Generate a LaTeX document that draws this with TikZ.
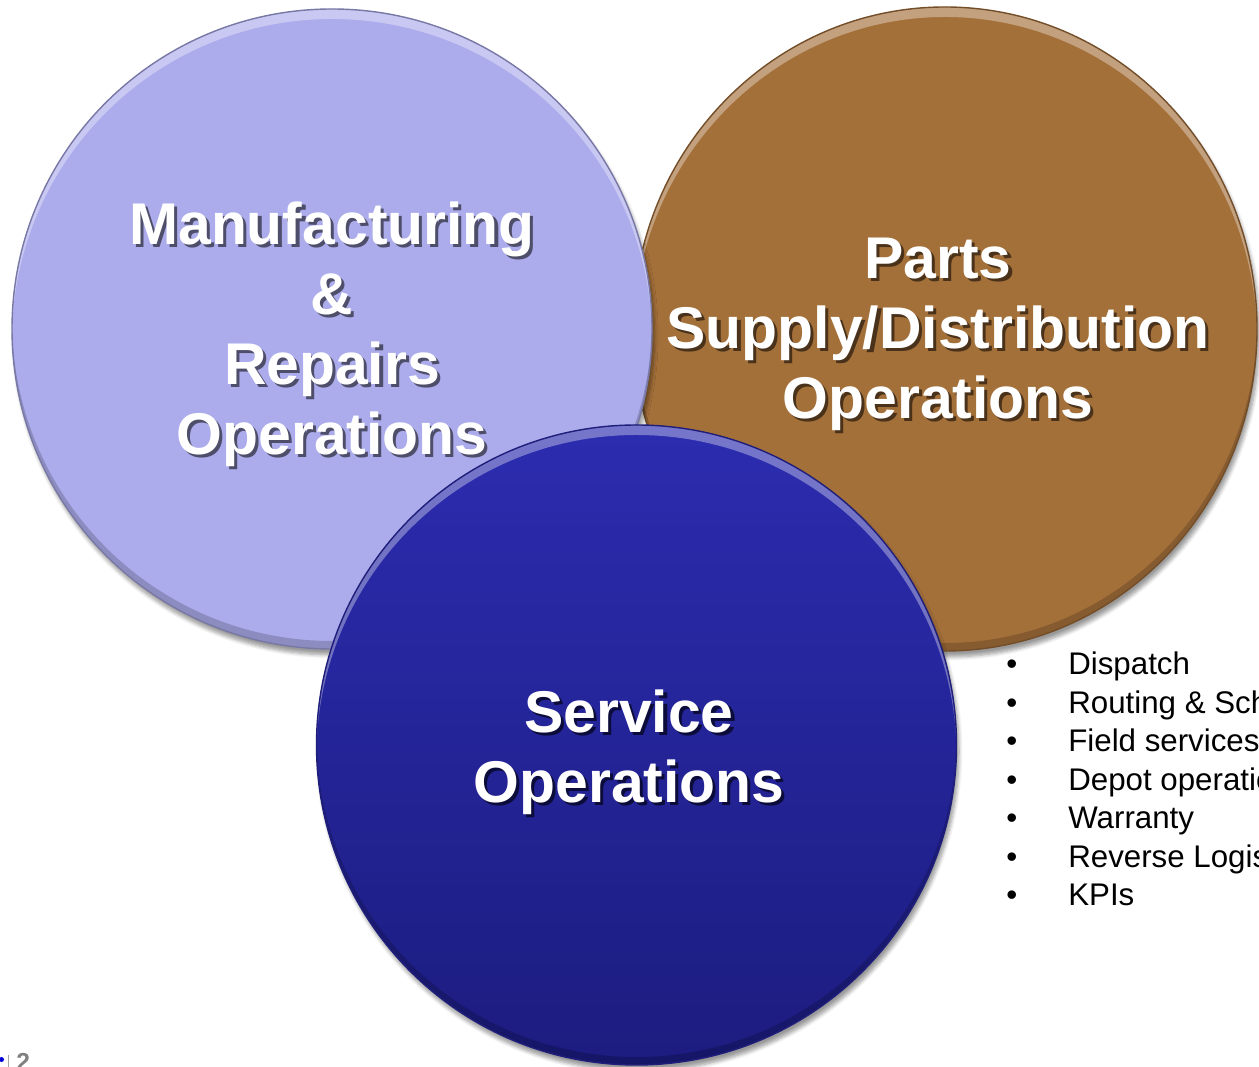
\documentclass[tikz,border=0pt]{standalone}
\usepackage{fontspec}
\setmainfont{Liberation Sans}
\usetikzlibrary{calc, shapes.geometric, shadows.blur}

\definecolor{mfgcol}{RGB}{172,172,236}
\definecolor{partscol}{RGB}{164,112,58}
\definecolor{svctop}{RGB}{44,44,176}
\definecolor{svcbot}{RGB}{28,28,128}

% white lettering with a soft offset copy behind it
\newcommand\shadowed[1]{\leavevmode\rlap{\kern1.8pt\raisebox{-1.8pt}{\color{shadowcol}#1}}#1}

\tikzset{
  bevel/.style={path picture={
    \path (path picture bounding box.south west) coordinate (sw)
          (path picture bounding box.north east) coordinate (ne);
    \fill[white, opacity=.35, even odd rule] let \p1=($(ne)-(sw)$), \p2=($(sw)!.5!(ne)$) in
      (\p2) ellipse [x radius=.5*\x1, y radius=.5*\y1]
      ($(\p2)+(0,-.2)$) ellipse [x radius=.5*\x1, y radius=.5*\y1];
    \fill[black, opacity=.18, even odd rule] let \p1=($(ne)-(sw)$), \p2=($(sw)!.5!(ne)$) in
      (\p2) ellipse [x radius=.5*\x1, y radius=.5*\y1]
      ($(\p2)+(0,.16)$) ellipse [x radius=.5*\x1, y radius=.5*\y1];
  }},
  venn/.style={circle, minimum size=12.8cm, inner sep=0pt, draw=#1!70!black, line width=.8pt,
    fill=#1, bevel, blur shadow={shadow xshift=.05cm, shadow yshift=-.12cm, shadow blur steps=6, shadow opacity=40}},
  circletext/.style={align=center, text=white, font=\fontsize{33.5}{39.8}\selectfont\bfseries,
    execute at begin node={\colorlet{shadowcol}{#1}}},
}

\begin{document}
\begin{tikzpicture}
  \useasboundingbox (0,0) rectangle (25.18,21.34);
  \clip (0,0) rectangle (25.18,21.34);

  % the three circles, back to front
  \node[venn=partscol, ellipse, minimum width=12.48cm, minimum height=12.88cm] (parts) at (18.9,14.76) {};
  \node[venn=mfgcol] (mfg) at (6.64,14.76) {};
  \node[venn=svctop, top color=svctop, bottom color=svcbot] (svc) at (12.73,6.44) {};

  \node[circletext=mfgcol!45!black] (mfgtext) at ([yshift=-.14cm]mfg.center)
    {\shadowed{Manufacturing}\\\shadowed{\&}\\\shadowed{Repairs}\\\shadowed{Operations}};
  \node[circletext=partscol!45!black] (partstext) at ([xshift=-.14cm, yshift=-.14cm]parts.center)
    {\shadowed{Parts}\\\shadowed{Supply/Distribution}\\\shadowed{Operations}};
  \node[circletext=svcbot!45!black] (svctext) at ([xshift=-.15cm, yshift=-.17cm]svc.center)
    {\shadowed{Service}\\\shadowed{Operations}};

  % service tasks
  \node[anchor=base west, inner sep=0pt, font=\fontsize{17.8}{21.9}\selectfont] (tasks) at (20.12,7.84) {%
    \begin{tabular}[t]{@{}l@{\hspace{1.02cm}}l@{}}
      \textbullet & Dispatch\\
      \textbullet & Routing \& Scheduling\\
      \textbullet & Field services\\
      \textbullet & Depot operations\\
      \textbullet & Warranty\\
      \textbullet & Reverse Logistics\\
      \textbullet & KPIs
    \end{tabular}};

  % page footer
  \node[circle, fill=blue!85!black, inner sep=0pt, minimum size=.1cm] (dot) at (.03,.15) {};
  \draw[gray!70, line width=1pt] (.17,0) -- (.17,.23);
  \node[anchor=north west, inner sep=0pt, text=gray, font=\bfseries\fontsize{14}{14}\selectfont] (pagenum) at (.32,.29) {2};
\end{tikzpicture}
\end{document}
